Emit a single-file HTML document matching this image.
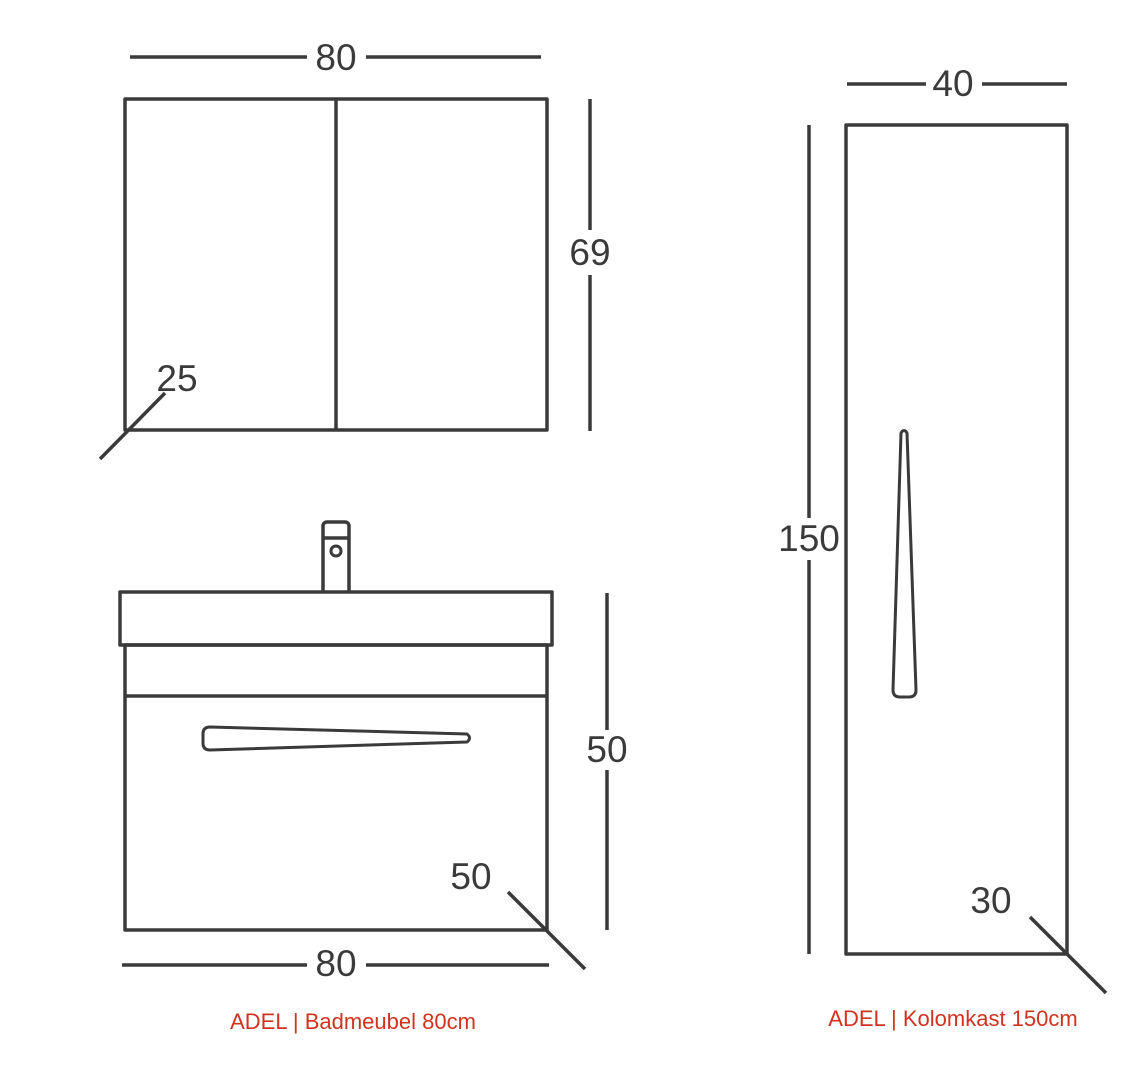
<!DOCTYPE html>
<html><head><meta charset="utf-8"><style>
html,body{margin:0;padding:0;background:#fff;}
svg{display:block;}
text{font-family:"Liberation Sans",sans-serif;fill:#3a3a3a;}
.n{font-size:37px;text-anchor:middle;}
.c{font-size:22px;fill:#d0331f;text-anchor:middle;}
</style></head><body>
<svg width="1143" height="1069" viewBox="0 0 1143 1069" xmlns="http://www.w3.org/2000/svg">
<g fill="none" stroke="#3a3a3a" stroke-width="3.5" stroke-linejoin="round">
<rect x="125" y="99" width="422" height="331"/>
<line x1="336" y1="99" x2="336" y2="430"/>
<line x1="130" y1="57" x2="307" y2="57"/>
<line x1="366" y1="57" x2="541" y2="57"/>
<line x1="590" y1="99" x2="590" y2="230"/>
<line x1="590" y1="275" x2="590" y2="431"/>
<line x1="165" y1="393" x2="100" y2="459"/>
<rect x="323" y="522" width="26" height="72" rx="4"/>
<line x1="323" y1="538" x2="349" y2="538"/>
<circle cx="336" cy="551" r="5" stroke-width="3"/>
<rect x="120" y="592" width="432" height="53" fill="#fff"/>
<rect x="125" y="645" width="422" height="285"/>
<line x1="125" y1="696" x2="547" y2="696"/>
<path d="M210,727 L467,734 Q472,738 467,742 L210,750 Q203,750 203,743 L203,734 Q203,727 210,727 Z" stroke-width="3"/>
<line x1="607" y1="593" x2="607" y2="730"/>
<line x1="607" y1="770" x2="607" y2="930"/>
<line x1="508" y1="892" x2="585" y2="969"/>
<line x1="122" y1="965" x2="307" y2="965"/>
<line x1="366" y1="965" x2="549" y2="965"/>
<rect x="846" y="125" width="221" height="829"/>
<path d="M901,433 Q904,428 907,433 L916,690 Q916,697 909,697 L900,697 Q893,697 893,690 Z" stroke-width="3"/>
<line x1="847" y1="84" x2="926" y2="84"/>
<line x1="982" y1="84" x2="1067" y2="84"/>
<line x1="809" y1="125" x2="809" y2="518"/>
<line x1="809" y1="560" x2="809" y2="954"/>
<line x1="1030" y1="917" x2="1106" y2="993"/>
</g>
<text class="n" x="336" y="70">80</text>
<text class="n" x="590" y="265">69</text>
<text class="n" x="177" y="391">25</text>
<text class="n" x="607" y="762">50</text>
<text class="n" x="471" y="889">50</text>
<text class="n" x="336" y="976">80</text>
<text class="n" x="953" y="96">40</text>
<text class="n" x="809" y="551">150</text>
<text class="n" x="991" y="913">30</text>
<text class="c" x="353" y="1029">ADEL | Badmeubel 80cm</text>
<text class="c" x="953" y="1026">ADEL | Kolomkast 150cm</text>
</svg>
</body></html>
